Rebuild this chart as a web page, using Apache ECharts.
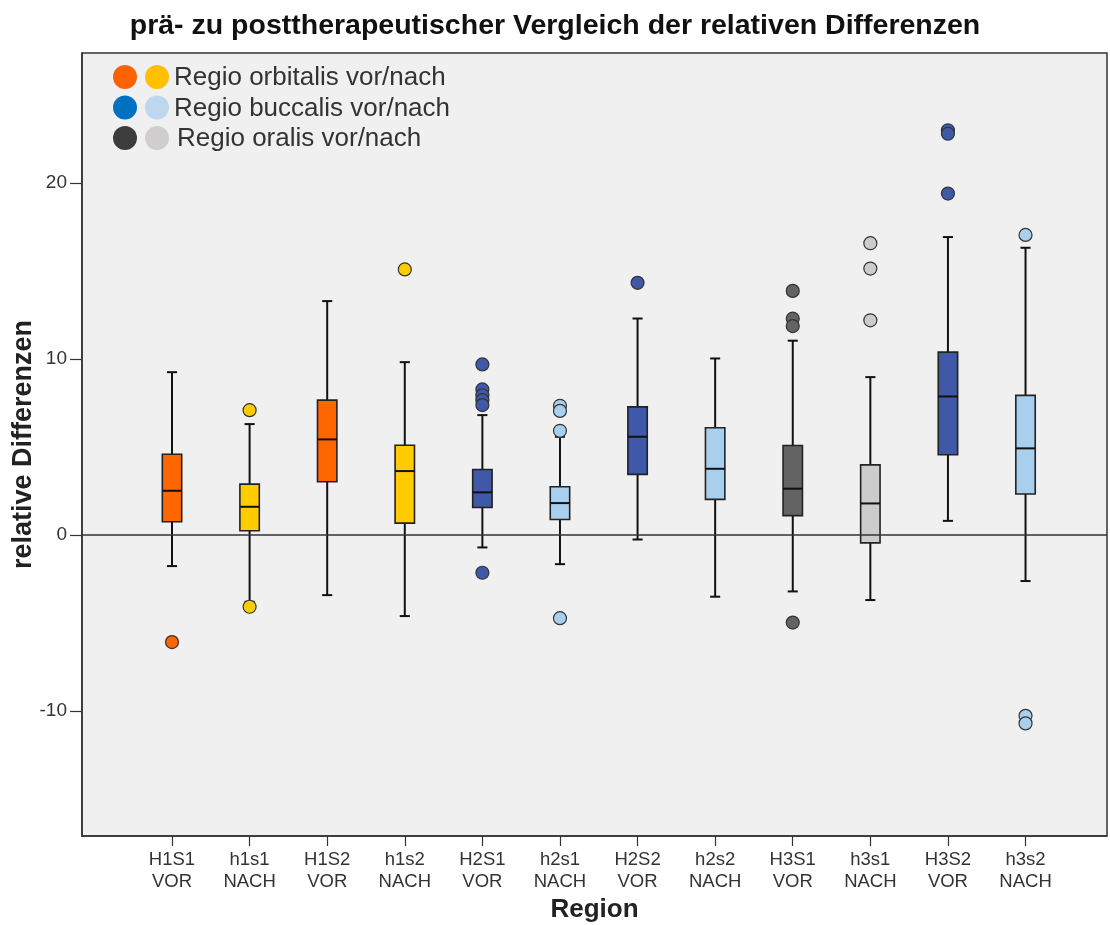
<!DOCTYPE html>
<html>
<head>
<meta charset="utf-8">
<script src="https://cdn.jsdelivr.net/npm/echarts@6/dist/echarts.min.js"></script>
<style>
  html, body { margin: 0; padding: 0; background: #ffffff; }
  #chart { width: 1110px; height: 925px; }
</style>
</head>
<body>
<div id="chart"></div>
<script>
// Group labels along the x axis (two lines each)
const categories = [
  'H1S1\nVOR', 'h1s1\nNACH', 'H1S2\nVOR', 'h1s2\nNACH',
  'H2S1\nVOR', 'h2s1\nNACH', 'H2S2\nVOR', 'h2s2\nNACH',
  'H3S1\nVOR', 'h3s1\nNACH', 'H3S2\nVOR', 'h3s2\nNACH'
];

// Five-number summaries per group
const whiskerLow  = [-1.76, -3.79, -3.41, -4.60, -0.70, -1.65, -0.25, -3.50, -3.20, -3.69,  0.81, -2.61];
const quartile1   = [ 0.76,  0.25,  3.03,  0.68,  1.57,  0.89,  3.45,  2.03,  1.11, -0.44,  4.57,  2.34];
const medians     = [ 2.52,  1.61,  5.44,  3.64,  2.43,  1.82,  5.59,  3.77,  2.64,  1.80,  7.88,  4.93];
const quartile3   = [ 4.60,  2.90,  7.67,  5.11,  3.73,  2.75,  7.29,  6.10,  5.09,  3.99, 10.40,  7.94];
const whiskerHigh = [ 9.26,  6.31, 13.30,  9.83,  6.82,  5.59, 12.31, 10.04, 11.05,  8.98, 16.94, 16.33];

// Outlying values per group
const outliers = [
  [-6.08],
  [7.10, -4.07],
  [],
  [15.10],
  [9.70, 8.28, 7.95, 7.67, 7.39, -2.14],
  [7.35, 7.06, 5.93, -4.72],
  [14.34],
  [],
  [13.88, 12.30, 11.88, -4.97],
  [16.59, 15.15, 12.21],
  [23.01, 22.81, 19.41],
  [17.06, -10.27, -10.70]
];

// Fill colour per group
const boxColors = [
  '#ff6600', '#ffcc00', '#ff6600', '#ffcc00',
  '#3f58a8', '#a9cfee', '#3f58a8', '#a9cfee',
  '#636363', '#cccccc', '#3f58a8', '#a9cfee'
];

// Legend rows: two swatches (vor / nach) and a caption
const legendLabels = ['Regio orbitalis vor/nach', 'Regio buccalis vor/nach', 'Regio oralis vor/nach'];
const legendColorsVor  = ['#ff6000', '#0070c0', '#3c3c3c'];
const legendColorsNach = ['#ffc000', '#bdd7ee', '#d0cece'];

const yTicks = [-10, 0, 10, 20];
const xTicks = categories.map((_, i) => i);

const FONT = '"Liberation Sans", Arial, sans-serif';

const boxData = categories.map((_, i) => [i, whiskerLow[i], quartile1[i], medians[i], quartile3[i], whiskerHigh[i]]);
const outlierData = [];
outliers.forEach((vals, i) => vals.forEach(v => outlierData.push({ value: [i, v], itemStyle: { color: boxColors[i] } })));

function renderBox(params, api) {
  const i = api.value(0);
  const lo = api.coord([i, api.value(1)]);
  const q1 = api.coord([i, api.value(2)]);
  const md = api.coord([i, api.value(3)]);
  const q3 = api.coord([i, api.value(4)]);
  const hi = api.coord([i, api.value(5)]);
  const half = api.size([0.25, 0])[0] / 2;
  const cap = api.size([0.13, 0])[0] / 2;
  const x = q1[0];
  const lineStyle = { stroke: '#111', lineWidth: 2 };
  return {
    type: 'group',
    children: [
      { type: 'line', shape: { x1: x, y1: q3[1], x2: x, y2: hi[1] }, style: lineStyle },
      { type: 'line', shape: { x1: x, y1: q1[1], x2: x, y2: lo[1] }, style: lineStyle },
      { type: 'line', shape: { x1: x - cap, y1: hi[1], x2: x + cap, y2: hi[1] }, style: lineStyle },
      { type: 'line', shape: { x1: x - cap, y1: lo[1], x2: x + cap, y2: lo[1] }, style: lineStyle },
      { type: 'rect', shape: { x: x - half, y: q3[1], width: half * 2, height: q1[1] - q3[1] },
        style: { fill: boxColors[params.dataIndex], stroke: '#222', lineWidth: 1.6 } },
      { type: 'line', shape: { x1: x - half, y1: md[1], x2: x + half, y2: md[1] }, style: { stroke: '#111', lineWidth: 2 } }
    ]
  };
}

// Legend built from graphic circles and texts
const legendGraphics = [];
legendLabels.forEach((label, r) => {
  const cy = 77 + r * 30.5;
  legendGraphics.push({ type: 'circle', shape: { cx: 125, cy: cy, r: 12 }, style: { fill: legendColorsVor[r] }, z: 10 });
  legendGraphics.push({ type: 'circle', shape: { cx: 157, cy: cy, r: 12 }, style: { fill: legendColorsNach[r] }, z: 10 });
  legendGraphics.push({ type: 'text', x: r === 2 ? 177 : 174, y: cy + 1, style: {
    text: label, fill: '#333', font: '26px ' + FONT, textVerticalAlign: 'middle' }, z: 10 });
});

const chart = echarts.init(document.getElementById('chart'), null, { renderer: 'canvas' });
chart.setOption({
  animation: false,
  backgroundColor: '#ffffff',
  title: {
    text: 'prä- zu posttherapeutischer Vergleich der relativen Differenzen',
    left: 'center', top: 7,
    textStyle: { fontFamily: FONT, fontWeight: 'bold', fontSize: 28.5, color: '#111' }
  },
  grid: {
    left: 82, right: 3, top: 53, bottom: 89,
    outerBoundsMode: 'none', containLabel: false,
    show: true, backgroundColor: '#f0f0f0', borderColor: '#333', borderWidth: 1.5
  },
  xAxis: {
    type: 'value', min: -1.16, max: 12.05,
    name: 'Region', nameLocation: 'middle', nameGap: 61, nameMoveOverlap: false,
    nameTextStyle: { fontFamily: FONT, fontWeight: 'bold', fontSize: 26, color: '#222' },
    axisLine: { show: true, onZero: false, lineStyle: { color: '#333', width: 1.5 } },
    axisTick: { show: true, customValues: xTicks, length: 10, inside: false, lineStyle: { color: '#333', width: 1.2 } },
    axisLabel: {
      customValues: xTicks, margin: 13,
      formatter: v => categories[Math.round(v)],
      fontFamily: FONT, fontSize: 18.5, color: '#333', lineHeight: 22
    },
    splitLine: { show: false }
  },
  yAxis: {
    type: 'value', min: -17.1, max: 27.4,
    name: 'relative Differenzen', nameLocation: 'middle', nameGap: 45, nameMoveOverlap: false,
    nameTextStyle: { fontFamily: FONT, fontWeight: 'bold', fontSize: 27, color: '#222' },
    axisLine: { show: true, onZero: false, lineStyle: { color: '#333', width: 1.5 } },
    axisTick: { show: true, customValues: yTicks, length: 12, lineStyle: { color: '#333', width: 1.2 } },
    axisLabel: { customValues: yTicks, margin: 15, fontFamily: FONT, fontSize: 19, color: '#333' },
    splitLine: { show: false }
  },
  graphic: legendGraphics,
  series: [
    {
      type: 'custom',
      renderItem: renderBox,
      data: boxData,
      encode: { x: 0, y: [1, 2, 3, 4, 5] },
      markLine: {
        silent: true, symbol: 'none', label: { show: false },
        lineStyle: { color: '#333', width: 1.5, type: 'solid' },
        data: [{ yAxis: 0 }]
      },
      z: 2
    },
    {
      type: 'scatter',
      data: outlierData,
      symbol: 'circle',
      symbolSize: 13,
      itemStyle: { borderColor: '#333', borderWidth: 1.2, opacity: 1 },
      z: 3
    }
  ]
});
</script>
</body>
</html>
